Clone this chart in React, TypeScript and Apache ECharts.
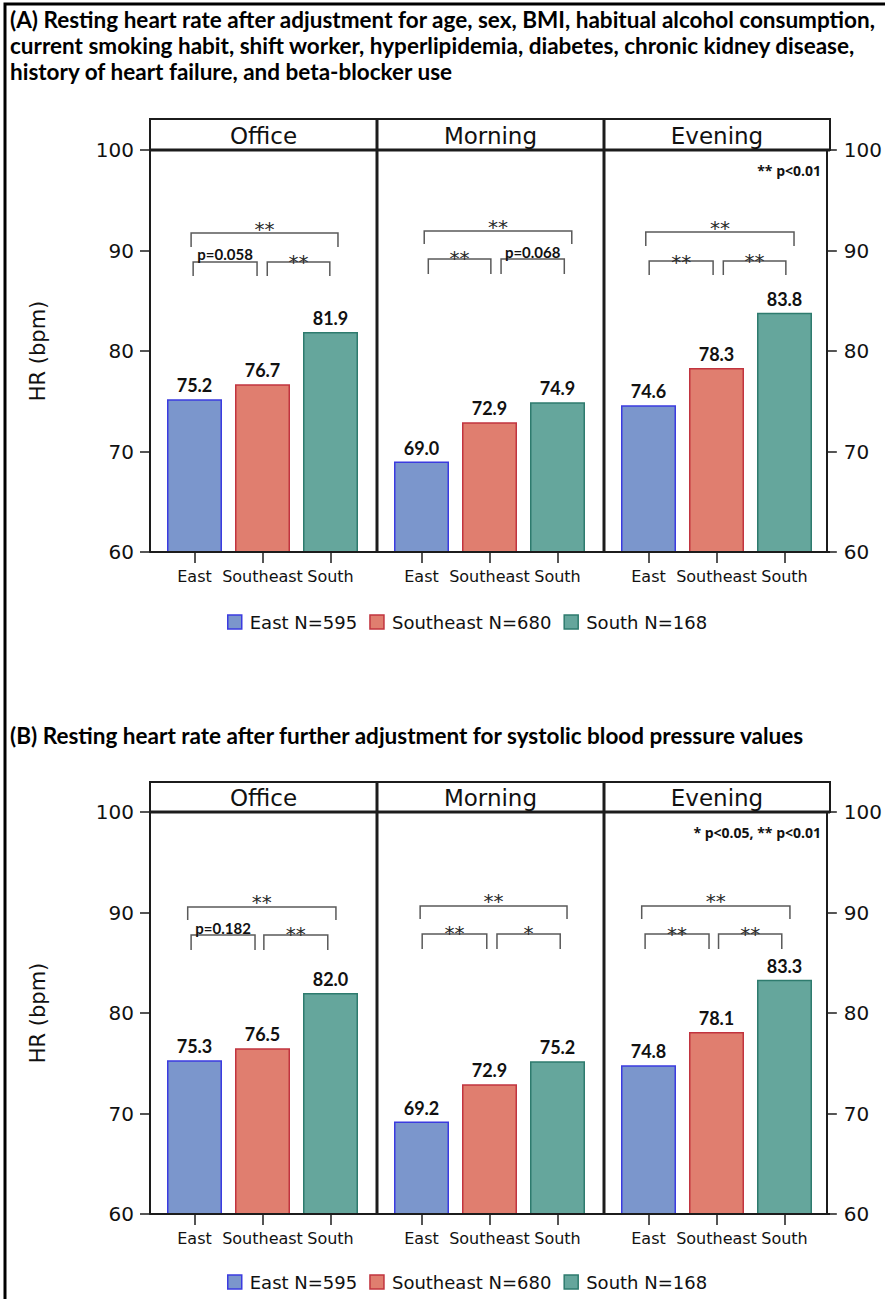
import React, { useEffect, useRef } from "react";
import * as echarts from "echarts";

// ---------- data ----------
const regions = ["East", "Southeast", "South"];
const legendNames = ["East N=595", "Southeast N=680", "South N=168"];
const facets = ["Office", "Morning", "Evening"];
const yTicks = [60, 70, 80, 90, 100];

const titleA = [
  "(A) Resting heart rate after adjustment for age, sex, BMI, habitual alcohol consumption,",
  "current smoking habit, shift worker, hyperlipidemia, diabetes, chronic kidney disease,",
  "history of heart failure, and beta-blocker use",
];
const titleB = ["(B) Resting heart rate after further adjustment for systolic blood pressure values"];

const hrA_office = [75.2, 76.7, 81.9];
const hrA_morning = [69.0, 72.9, 74.9];
const hrA_evening = [74.6, 78.3, 83.8];
const hrB_office = [75.3, 76.5, 82.0];
const hrB_morning = [69.2, 72.9, 75.2];
const hrB_evening = [74.8, 78.1, 83.3];

// brackets: [fromIndex, toIndex, topValue, legValue, label, labelGapPx]
const bracketsA_office: any[] = [[-0.05, 2.11, 91.74, 90.35, "**", 9], [-0.02, 0.92, 88.86, 87.46, "p=0.058", 8], [1.07, 1.99, 88.86, 87.46, "**", 5]];
const bracketsA_morning: any[] = [[0.04, 2.21, 91.94, 90.65, "**", 9], [0.1, 1.02, 89.15, 87.66, "**", 6], [1.17, 2.1, 89.15, 87.66, "p=0.068", 7]];
const bracketsA_evening: any[] = [[-0.04, 2.14, 91.84, 90.45, "**", 9], [0.01, 0.95, 88.96, 87.56, "**", 4], [1.1, 2.02, 88.96, 87.56, "**", 5]];
const bracketsB_office: any[] = [[-0.1, 2.08, 90.55, 89.25, "**", 10], [-0.05, 0.89, 87.76, 86.27, "p=0.182", 7], [1.02, 1.96, 87.76, 86.27, "**", 6]];
const bracketsB_morning: any[] = [[-0.02, 2.14, 90.65, 89.35, "**", 10], [0.01, 0.96, 87.86, 86.37, "**", 6], [1.11, 2.04, 87.86, 86.37, "*", 6]];
const bracketsB_evening: any[] = [[-0.1, 2.08, 90.65, 89.35, "**", 10], [-0.05, 0.89, 87.86, 86.37, "**", 5], [1.03, 1.96, 87.86, 86.37, "**", 5]];

const noteA = "** p<0.01";
const noteB = "* p<0.05, ** p<0.01";

// ---------- styles ----------
const fills = ["#7B96CC", "#E07E6F", "#65A69C"];
const borders = ["#3B3BE0", "#C1343F", "#2E7B6E"];
const NARROW = 'Lato, "Open Sans", sans-serif';
const SANS = '"DejaVu Sans", Verdana, sans-serif';
const FRAME = "#1c1c1c";

const W = 885;
const H = 1299;
const PLOT_L = 150;
const PLOT_R = 830;
const FACET_L = [150, 377, 604];
const BAND = 68;
const FIRST_C = 44.5;

const panels = [
  {
    title: titleA, titleY: 19, stripTop: 119, plotTop: 150, plotBottom: 552, legendTop: 608, note: noteA,
    values: [hrA_office, hrA_morning, hrA_evening],
    brackets: [bracketsA_office, bracketsA_morning, bracketsA_evening],
  },
  {
    title: titleB, titleY: 735, stripTop: 782, plotTop: 812, plotBottom: 1214, legendTop: 1268, note: noteB,
    values: [hrB_office, hrB_morning, hrB_evening],
    brackets: [bracketsB_office, bracketsB_morning, bracketsB_evening],
  },
];

function measure(txt: string, font: string) {
  const c = document.createElement("canvas").getContext("2d")!;
  c.font = font;
  return c.measureText(txt).width;
}

export default function App() {
  const ref = useRef<HTMLDivElement>(null);
  useEffect(() => {
    if (!ref.current) return;
    const chart = echarts.init(ref.current, undefined, { renderer: "svg", width: W, height: H });

    const w20 = measure(titleA[0], `bold 20px ${NARROW}`);
    const titleSize = Math.max(14, Math.min(24, (20 * 866) / w20));

    const grid: any[] = [];
    const xAxis: any[] = [];
    const yAxis: any[] = [];
    const series: any[] = [];
    const graphic: any[] = [];
    const legend: any[] = [];

    graphic.push({
      type: "rect", shape: { x: 5, y: 4, width: W + 20, height: H + 20 },
      style: { fill: "none", stroke: "#000", lineWidth: 3 }, z: 100,
    });

    panels.forEach((p, pi) => {
      const ph = p.plotBottom - p.plotTop;
      // facet grids
      facets.forEach((f, fi) => {
        const gi = grid.length;
        const xi = xAxis.length;
        const yi = yAxis.length;
        grid.push({ left: FACET_L[fi] + FIRST_C - BAND / 2, width: BAND * 3, top: p.plotTop, height: ph, containLabel: false });
        xAxis.push({
          type: "category", gridIndex: gi, data: regions,
          axisLine: { show: false },
          axisTick: { show: true, alignWithLabel: true, length: 11, lineStyle: { color: FRAME, width: 1.5 } },
          axisLabel: { fontFamily: SANS, fontSize: 16, color: "#111", margin: 16, interval: 0 },
          splitLine: { show: false },
        });
        yAxis.push({ type: "value", gridIndex: gi, min: 60, max: 100, interval: 10, show: false });
        regions.forEach((r, ri) => {
          series.push({
            type: "bar", name: legendNames[ri], xAxisIndex: xi, yAxisIndex: yi,
            barWidth: 55, barGap: "-100%",
            data: regions.map((_, k) => (k === ri ? p.values[fi][ri] : "-")),
            itemStyle: { color: fills[ri], borderColor: borders[ri], borderWidth: 1.5 },
            label: {
              show: true, position: "top", distance: 5,
              formatter: (q: any) => Number(q.value).toFixed(1),
              fontFamily: NARROW, fontWeight: "bold", fontSize: 18, color: "#111",
            },
          });
        });
        const br = p.brackets[fi];
        series.push({
          type: "custom", xAxisIndex: xi, yAxisIndex: yi, silent: true, z: 5, clip: false,
          data: br.map((b: any) => [0, b[2]]),
          renderItem: (params: any, api: any) => {
            const b = br[params.dataIndex];
            const c0 = api.coord([0, b[2]]);
            const c1 = api.coord([1, b[2]]);
            const band = c1[0] - c0[0];
            const xa = c0[0] + b[0] * band;
            const xb = c0[0] + b[1] * band;
            const yt = c0[1];
            const yl = api.coord([0, b[3]])[1];
            const isStar = String(b[4]).startsWith("*");
            return {
              type: "group",
              children: [
                {
                  type: "polyline",
                  shape: { points: [[xa, yl], [xa, yt], [xb, yt], [xb, yl]] },
                  style: { stroke: "#5a5a5a", lineWidth: 1.5, fill: "none" },
                },
                {
                  type: "text", x: (xa + xb) / 2, y: yt - b[5] + (isStar ? 5 : 0),
                  style: {
                    text: b[4], textAlign: "center", textVerticalAlign: "middle",
                    font: isStar ? `20px ${SANS}` : `bold 15px ${NARROW}`,
                    fill: isStar ? "#2a2a2a" : "#111",
                  },
                },
              ],
            };
          },
        });
      });
      // frame grid with visible y axes
      const gi = grid.length;
      grid.push({ left: PLOT_L, width: PLOT_R - PLOT_L, top: p.plotTop, height: ph });
      xAxis.push({ type: "value", gridIndex: gi, min: 0, max: 1, show: false });
      const yBase = {
        type: "value", gridIndex: gi, min: 60, max: 100, interval: 10,
        axisLine: { show: true, lineStyle: { color: FRAME, width: 2 } },
        axisTick: { show: true, length: 10, lineStyle: { color: FRAME, width: 1.5 } },
        axisLabel: { fontFamily: SANS, fontSize: 20, color: "#111", margin: 16 },
        splitLine: { show: false },
      };
      yAxis.push({ ...yBase, position: "left" });
      yAxis.push({ ...yBase, position: "right", axisLabel: { ...yBase.axisLabel, margin: 17 } });

      // titles
      p.title.forEach((t, ti) => {
        graphic.push({
          type: "text", x: 10, y: p.titleY + ti * 26,
          style: { text: t, textAlign: "left", textVerticalAlign: "middle", font: `bold ${titleSize.toFixed(2)}px ${NARROW}`, fill: "#000" },
        });
      });
      // strip
      graphic.push({
        type: "rect", shape: { x: PLOT_L, y: p.stripTop, width: PLOT_R - PLOT_L, height: p.plotTop - p.stripTop },
        style: { fill: "#fff", stroke: FRAME, lineWidth: 2 }, z: 10,
      });
      graphic.push({
        type: "line", shape: { x1: PLOT_L, y1: p.plotTop, x2: PLOT_R, y2: p.plotTop },
        style: { stroke: FRAME, lineWidth: 3 }, z: 11,
      });
      graphic.push({
        type: "line", shape: { x1: PLOT_L, y1: p.plotBottom, x2: PLOT_R, y2: p.plotBottom },
        style: { stroke: FRAME, lineWidth: 2 }, z: 11,
      });
      [FACET_L[1], FACET_L[2]].forEach((x) => {
        graphic.push({
          type: "line", shape: { x1: x, y1: p.stripTop, x2: x, y2: p.plotBottom },
          style: { stroke: FRAME, lineWidth: 3 }, z: 11,
        });
      });
      facets.forEach((f, fi) => {
        const right = fi < 2 ? FACET_L[fi + 1] : PLOT_R;
        graphic.push({
          type: "text", x: (FACET_L[fi] + right) / 2, y: (p.stripTop + p.plotTop) / 2 + 1,
          style: { text: f, textAlign: "center", textVerticalAlign: "middle", font: `23px ${SANS}`, fill: "#111" }, z: 12,
        });
      });
      // y axis name
      graphic.push({
        type: "text", x: 38, y: (p.plotTop + p.plotBottom) / 2, rotation: Math.PI / 2,
        style: { text: "HR (bpm)", textAlign: "center", textVerticalAlign: "middle", font: `21px ${SANS}`, fill: "#111" },
      });
      // note
      graphic.push({
        type: "text", x: 821, y: p.plotTop + 20,
        style: { text: p.note, textAlign: "right", textVerticalAlign: "middle", font: `bold 14px "Open Sans", sans-serif`, fill: "#111" }, z: 12,
      });
      // legend
      legend.push({
        left: 222, top: p.legendTop, orient: "horizontal", itemWidth: 14, itemHeight: 14, itemGap: 12,
        icon: "rect", selectedMode: false,
        textStyle: { fontFamily: SANS, fontSize: 18, color: "#111", padding: [0, 0, 0, 3] },
        data: legendNames.map((n, i) => ({
          name: n, icon: "rect",
          itemStyle: { color: fills[i], borderColor: borders[i], borderWidth: 1.5 },
        })),
      });
    });

    chart.setOption({
      animation: false,
      backgroundColor: "#fff",
      grid, xAxis, yAxis, series, legend, graphic,
    });
    return () => chart.dispose();
  }, []);
  return <div ref={ref} style={{ position: "absolute", left: 0, top: 0, width: W, height: H, background: "#fff" }} />;
}
